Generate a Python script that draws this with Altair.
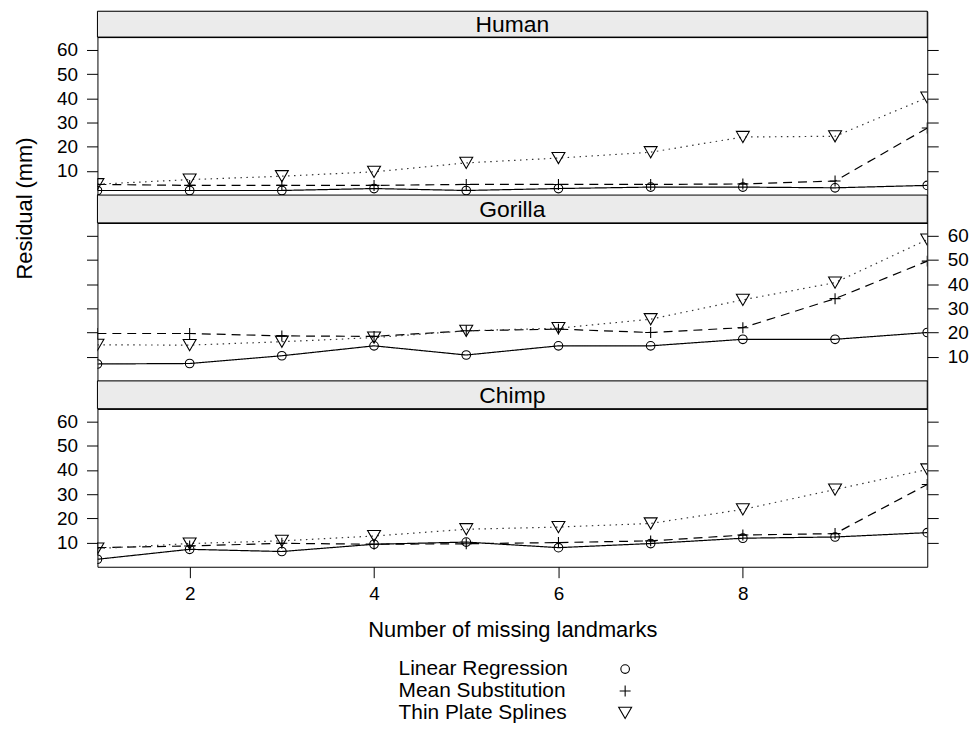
import altair as alt
import pandas as pd

# ---------------- data ----------------
x_vals = [1, 2, 3, 4, 5, 6, 7, 8, 9, 10]
methods = ["Linear Regression", "Mean Substitution", "Thin Plate Splines"]
species = ["Human", "Gorilla", "Chimp"]

human_lr = [1.9, 1.9, 1.9, 2.7, 1.9, 2.7, 3.3, 3.3, 3.0, 4.0]
human_ms = [4.4, 4.0, 4.0, 4.0, 4.4, 4.4, 4.4, 4.6, 5.8, 27.7]
human_tps = [4.5, 6.4, 7.8, 9.6, 13.3, 15.3, 17.7, 24.0, 24.3, 40.3]

gorilla_lr = [7.0, 7.2, 10.4, 14.5, 10.7, 14.5, 14.5, 17.2, 17.2, 20.0]
gorilla_ms = [19.6, 19.6, 18.6, 18.4, 20.7, 21.4, 20.0, 22.0, 34.0, 49.5]
gorilla_tps = [14.9, 14.8, 16.2, 17.9, 20.7, 21.8, 25.5, 33.5, 40.6, 58.4]

chimp_lr = [3.1, 7.2, 6.3, 9.3, 10.2, 7.9, 9.6, 11.8, 12.3, 14.1]
chimp_ms = [7.9, 8.6, 9.7, 9.3, 9.5, 10.0, 10.7, 13.1, 13.7, 34.0]
chimp_tps = [7.5, 9.6, 10.7, 12.7, 15.5, 16.4, 17.9, 23.7, 31.9, 40.2]

y_ticks = [10, 20, 30, 40, 50, 60]
x_ticks = [2, 4, 6, 8]

# ---------------- layout / style ----------------
W = 835
PANEL_H = 159
STRIP_H = 28
FONT = "Liberation Sans"
TICK_FS = 19
TITLE_FS = 22
STRIP_FS = 23
LEGEND_FS = 21

xscale = alt.Scale(domain=[1, 10], nice=False, zero=False)
yscale = alt.Scale(domain=[0, 65.3], nice=False, zero=False)

dash_scale = alt.Scale(domain=methods, range=[[1, 0], [9, 6], [1.5, 4.5]])
color_scale = alt.Scale(domain=methods, range=["black", "black", "#333333"])
shape_scale = alt.Scale(domain=methods, range=["circle", "M-1,0L1,0M0,-1L0,1", "triangle-down"])
size_scale = alt.Scale(domain=methods, range=[75, 169, 144])
legend_size_scale = alt.Scale(domain=methods, range=[45, 110, 80])


def y_axis(orient, labels, title=None):
    kw = dict(
        orient=orient, values=y_ticks, labels=labels, tickSize=11, tickColor="black",
        labelPadding=9, labelFontSize=TICK_FS, labelColor="black", domain=False, grid=False,
        title=title,
    )
    if title:
        kw.update(titleX=-73, titleY=172, titleAngle=270, titleAlign="center",
                  titleBaseline="middle", titleFontSize=TITLE_FS, titleFontWeight="normal",
                  titleColor="black")
    return alt.Axis(**kw)


def strip(name, h):
    sdf = pd.DataFrame({"species": [name]})
    base = alt.Chart(sdf)
    rect = base.mark_rect(fill="#ebebeb", stroke="black", strokeWidth=1).encode(
        x=alt.value(0), x2=alt.value(W), y=alt.value(0), y2=alt.value(h)
    )
    txt = base.mark_text(fontSize=STRIP_FS, font=FONT, color="black", baseline="middle").encode(
        x=alt.value(W / 2), y=alt.value(h / 2 + 1), text="species:N"
    )
    return alt.layer(rect, txt).properties(width=W, height=h)


def panel(lr, ms, tps, left_labels, right_labels, xaxis, ytitle=None):
    df = pd.DataFrame({
        "x": x_vals * 3,
        "value": lr + ms + tps,
        "method": [methods[0]] * 10 + [methods[1]] * 10 + [methods[2]] * 10,
    })
    base = alt.Chart(df)
    xenc = alt.X("x:Q", scale=xscale, axis=xaxis)
    lines = base.mark_line(clip=True, strokeWidth=1.2).encode(
        x=xenc,
        y=alt.Y("value:Q", scale=yscale, axis=y_axis("left", left_labels, ytitle)),
        strokeDash=alt.StrokeDash("method:N", scale=dash_scale, legend=None),
        color=alt.Color("method:N", scale=color_scale, legend=None),
        detail="method:N",
    )
    pts = base.mark_point(clip=True, filled=False, strokeWidth=1.1, opacity=1, color="black").encode(
        x=xenc,
        y=alt.Y("value:Q", scale=yscale, axis=y_axis("right", right_labels)),
        shape=alt.Shape("method:N", scale=shape_scale, legend=None),
        size=alt.Size("method:O", scale=size_scale, legend=None),
    )
    return alt.layer(lines, pts).resolve_axis(y="independent").properties(width=W, height=PANEL_H)


bottom_axis = alt.Axis(
    values=x_ticks, tickSize=11, tickColor="black", labelPadding=7, labelFontSize=TICK_FS,
    labelColor="black", domain=False, grid=False, title="Number of missing landmarks",
    titleFontSize=TITLE_FS, titleFontWeight="normal", titleColor="black", titlePadding=16,
)

human = panel(human_lr, human_ms, human_tps, True, False, None, "Residual (mm)")
gorilla = panel(gorilla_lr, gorilla_ms, gorilla_tps, False, True, None)
chimp = panel(chimp_lr, chimp_ms, chimp_tps, True, False, bottom_axis)

# legend (labels left, symbols right, as in lattice key)
ldf = pd.DataFrame({"method": methods})
lbase = alt.Chart(ldf)
ly = alt.Y("method:N", sort=methods, axis=None,
           scale=alt.Scale(type="band", domain=methods, range=[92, 158], paddingInner=0, paddingOuter=0))
ltext = lbase.mark_text(align="left", baseline="middle", fontSize=LEGEND_FS, font=FONT, color="black").encode(
    x=alt.value(303), y=ly, text="method:N"
)
lpts = lbase.mark_point(filled=False, strokeWidth=1.1, opacity=1, color="black").encode(
    x=alt.value(531), y=ly,
    shape=alt.Shape("method:N", scale=shape_scale, legend=None),
    size=alt.Size("method:O", scale=legend_size_scale, legend=None),
)
legend = alt.layer(ltext, lpts).properties(
    width=W, height=158, view=alt.ViewBackground(stroke="transparent")
)

chart = alt.vconcat(
    strip("Human", 26), human,
    strip("Gorilla", STRIP_H), gorilla,
    strip("Chimp", STRIP_H), chimp,
    legend,
    spacing=0, bounds="flush",
).properties(
    padding={"left": 5, "top": 0, "right": 0, "bottom": 0}
).configure(font=FONT).configure_view(stroke="black", strokeWidth=1)

chart.save("out.html", embed_options={"renderer": "svg", "actions": False})
